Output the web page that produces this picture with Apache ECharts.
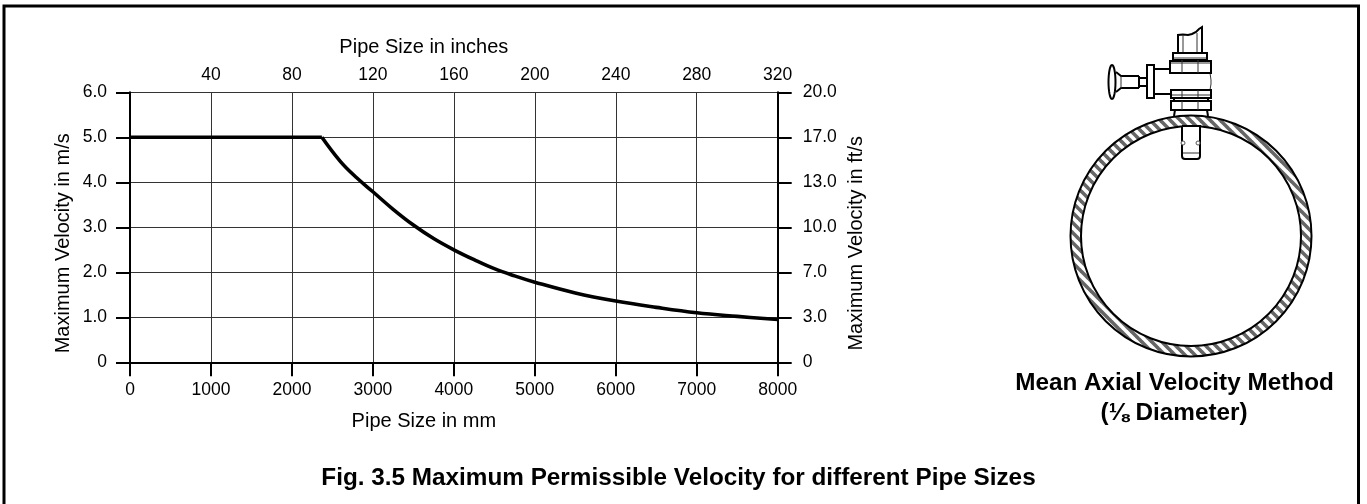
<!DOCTYPE html>
<html><head><meta charset="utf-8">
<style>html,body{margin:0;padding:0;background:#fff}#c{width:1367px;height:504px}</style>
<script src="https://cdn.jsdelivr.net/npm/echarts@6/dist/echarts.min.js"></script>
</head><body><div id="c"></div>
<script>
const flatMm = [0,2370];
const flatVelocity = [5,5];
const curveMm = [2370,2600,2800,3000,3250,3500,3750,4000,4250,4500,4750,5000,5500,6000,6500,7000,7500,8000];
const curveVelocity = [5,4.46,4.1,3.79,3.4,3.05,2.75,2.5,2.28,2.08,1.92,1.78,1.54,1.36,1.22,1.1,1.02,0.95];
const rightTicks = ['0','3.0','7.0','10.0','13.0','17.0','20.0'];
const FONT = '"Liberation Sans", Arial, sans-serif';
const chart = echarts.init(document.getElementById('c'), null, {renderer:'canvas'});

function hatch(){
  const s=10, c=document.createElement('canvas'); c.width=s; c.height=s;
  const g=c.getContext('2d'); g.fillStyle='#fff'; g.fillRect(0,0,s,s);
  g.strokeStyle='#666'; g.lineWidth=3.6;
  for(let k=-s;k<=s;k+=s){ g.beginPath(); g.moveTo(k-1,-1); g.lineTo(k+s+1,s+1); g.stroke(); }
  return c;
}
const ink={stroke:'#000',fill:'#fff',lineWidth:2};
const thin={stroke:'#333',lineWidth:1,fill:'none'};
const bold={stroke:'#000',lineWidth:2,fill:'none'};
const rect=(x,y,w,h,st,r)=>({type:'rect',shape:{x,y,width:w,height:h,r:r||0},style:st||ink});
const line=(x1,y1,x2,y2,st)=>({type:'line',shape:{x1,y1,x2,y2},style:st||thin});
const poly=(points,st)=>({type:'polyline',shape:{points},style:st||bold});
const knob=[]; for(let i=0;i<32;i++){const a=i/32*2*Math.PI; knob.push([1112+3.5*Math.cos(a),82+17*Math.sin(a)]);}

const CX=1191, CY=236;
const drawing=[
  {type:'ring',shape:{cx:CX,cy:CY,r:120.5,r0:110},style:{fill:{image:hatch(),repeat:'repeat'},stroke:'#000',lineWidth:2}},
  // probe
  rect(1182,126,18,33,ink,[0,0,3,3]),
  line(1183,153,1199,153,thin),
  {type:'circle',shape:{cx:1183,cy:143,r:2},style:{fill:'#fff',stroke:'#555',lineWidth:1}},
  {type:'circle',shape:{cx:1198,cy:143,r:2},style:{fill:'#fff',stroke:'#555',lineWidth:1}},
  // stem
  {type:'polygon',shape:{points:[[1178,54],[1178,35],[1183,34.5],[1188,35],[1192,34],[1196,32],[1199,29],[1202,27],[1202,54]]},style:ink},
  line(1183,36,1183,53),
  line(1197,33,1197,53),
  rect(1173,53,34,7),
  line(1174,58,1206,58),
  // body
  line(1153,69,1171,69,bold),
  line(1153,94,1171,94,bold),
  poly([[1210,73],[1211,80],[1211,84],[1210,90]],thin),
  // upper nut
  rect(1170,61,41,12),
  line(1171,63,1210,63),
  line(1182,60,1182,73),line(1198,60,1198,73),
  // lower nuts
  rect(1171,90,40,8),
  line(1172,95,1210,95),
  line(1182,90,1182,98),line(1198,90,1198,98),
  rect(1174,98,34,3),
  rect(1171,101,40,9),
  line(1182,101,1182,110),line(1198,101,1198,110),
  poly([[1175,110],[1174,116]]),poly([[1207,110],[1208,116]]),
  // side branch
  rect(1147,65,7,33),
  rect(1139,78,8,8),
  poly([[1139,76],[1121,76],[1116,72]]),
  poly([[1139,88],[1121,88],[1116,92]]),
  line(1139,76,1139,88,bold),
  line(1121,76,1121,88),
  {type:'polygon',shape:{points:knob},style:ink},
  // frame
  poly([[4,504],[4,6],[1358.5,6],[1358.5,504]],{stroke:'#000',lineWidth:3,fill:'none'}),
  {type:'text',style:{x:1174.5,y:383,text:'Mean Axial Velocity Method',fill:'#000',font:'bold 24.3px '+FONT,align:'center',verticalAlign:'middle'}},
  {type:'text',style:{x:1174,y:413,text:'(⅛ Diameter)',fill:'#000',font:'bold 24.3px '+FONT,align:'center',verticalAlign:'middle'}}
];

const labelStyle={color:'#000',fontFamily:FONT,fontSize:17.5};
const nameStyle={color:'#000',fontFamily:FONT,fontSize:20};
const gridLine={show:true,lineStyle:{color:'#333',width:1}};
const tick14={show:true,length:14,lineStyle:{color:'#000',width:2}};
const pairs=(xs,ys)=>xs.map((x,i)=>[x,ys[i]]);
const thick={color:'#000',width:3.6,join:'round'};

chart.setOption({
  animation:false,
  backgroundColor:'#fff',
  title:{text:'Fig. 3.5 Maximum Permissible Velocity for different Pipe Sizes',left:678.5,top:466,textAlign:'center',
    textStyle:{color:'#000',fontFamily:FONT,fontWeight:'bold',fontSize:24.3},padding:0},
  grid:{left:130,top:92.3,width:647.7,height:270,containLabel:false},
  xAxis:[
    {type:'value',position:'bottom',min:0,max:8000,interval:1000,
     name:'Pipe Size in mm',nameLocation:'middle',nameGap:49,nameTextStyle:Object.assign({padding:[0,60,0,0]},nameStyle),
     axisLine:{show:true,onZero:false,lineStyle:{color:'#000',width:2}},axisTick:tick14,
     axisLabel:Object.assign({margin:19,formatter:v=>String(v)},labelStyle),splitLine:gridLine},
    {type:'value',position:'top',min:0,max:320,interval:40,
     name:'Pipe Size in inches',nameLocation:'middle',nameGap:35,nameTextStyle:Object.assign({padding:[0,60,0,0]},nameStyle),
     axisLine:{show:false},axisTick:{show:false},splitLine:{show:false},
     axisLabel:Object.assign({margin:8,formatter:v=>v===0?'':String(v)},labelStyle)}
  ],
  yAxis:[
    {type:'value',min:0,max:6,interval:1,position:'left',
     name:'Maximum Velocity in m/s',nameLocation:'middle',nameGap:56.5,nameTextStyle:Object.assign({padding:[0,32,0,0]},nameStyle),
     axisLine:{show:true,onZero:false,lineStyle:{color:'#000',width:2}},axisTick:tick14,splitLine:gridLine,
     axisLabel:Object.assign({margin:23,formatter:v=>v===0?'0':v.toFixed(1)},labelStyle)},
    {type:'category',position:'right',boundaryGap:false,data:rightTicks,
     name:'Maximum Velocity in ft/s',nameLocation:'middle',nameGap:69,nameTextStyle:Object.assign({padding:[0,32,0,0]},nameStyle),
     nameRotate:90,
     axisLine:{show:true,onZero:false,lineStyle:{color:'#000',width:2}},axisTick:Object.assign({alignWithLabel:true},tick14),splitLine:{show:false},
     axisLabel:Object.assign({margin:25,interval:0},labelStyle)}
  ],
  series:[
    {type:'line',xAxisIndex:0,yAxisIndex:0,symbol:'none',clip:false,data:pairs(flatMm,flatVelocity),lineStyle:thick},
    {type:'line',xAxisIndex:0,yAxisIndex:0,symbol:'none',clip:false,smooth:0.4,data:pairs(curveMm,curveVelocity),lineStyle:thick}
  ],
  graphic:drawing
});
</script></body></html>
